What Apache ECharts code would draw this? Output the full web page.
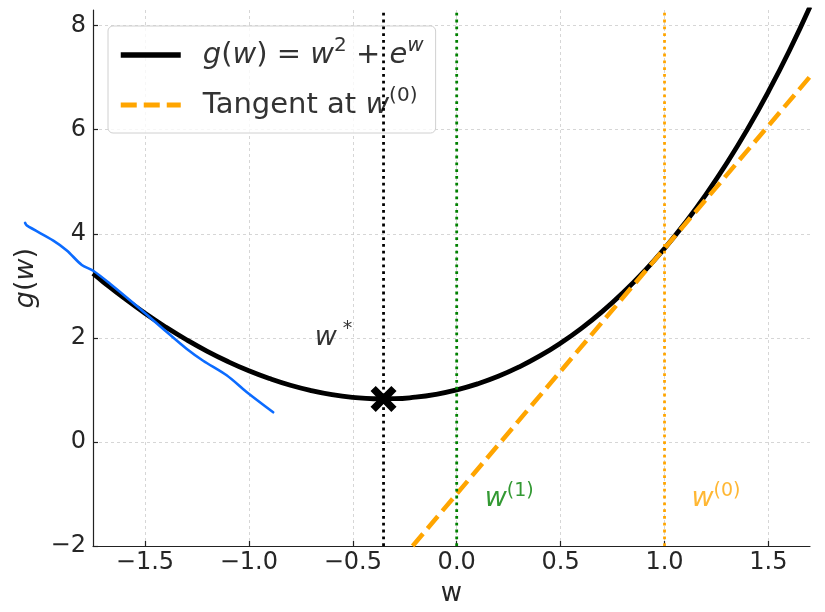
<!DOCTYPE html>
<html>
<head>
<meta charset="utf-8">
<script src="https://cdn.jsdelivr.net/npm/echarts@6/dist/echarts.min.js"></script>
<style>html,body{margin:0;padding:0;background:#fff}#chart{width:825px;height:612px}</style>
</head>
<body>
<div id="chart"></div>
<script>
// ---- data ----
const wSamples = [-1.75,-1.7,-1.6,-1.5,-1.4,-1.3,-1.2,-1.1,-1.0,-0.9,-0.8,-0.7,-0.6,-0.5,-0.4,-0.3,-0.2,-0.1,0.0,0.1,0.2,0.3,0.4,0.5,0.6,0.7,0.8,0.9,1.0,1.1,1.2,1.3,1.4,1.5,1.6,1.7];
const gValues = [3.236,3.073,2.762,2.473,2.207,1.963,1.741,1.543,1.368,1.217,1.089,0.987,0.909,0.857,0.830,0.831,0.859,0.915,1.000,1.115,1.261,1.440,1.652,1.899,2.182,2.504,2.866,3.270,3.718,4.214,4.760,5.359,6.015,6.732,7.513,8.364];
const tangentW = [-0.212, 1.7];
const tangentG = [-2.0, 7.02];
const wStar = -0.352, gStar = 0.827;
const w1 = 0.0, w0 = 1.0;
const yLow = -2, yHigh = 8.3;
const strokeW = [-2.077,-2.069,-1.941,-1.876,-1.804,-1.749,-1.668,-1.524,-1.412,-1.300,-1.220,-1.107,-1.011,-0.883];
const strokeG = [4.21,4.16,3.87,3.68,3.40,3.29,3.04,2.56,2.17,1.79,1.56,1.28,0.96,0.57];
const xTicks = [-1.5,-1.0,-0.5,0.0,0.5,1.0,1.5];
const yTicks = [-2,0,2,4,6,8];
const annotations = [
  {text: '{w|w}{s| *}', w: -0.683, g: 2.0, color: '#000000'},
  {text: '{w|w}{s|(1)}', w: 0.135, g: -1.10, color: '#008000'},
  {text: '{w|w}{s|(0)}', w: 1.130, g: -1.10, color: '#FFA500'}
];
const nameCurve = 'curve', nameTangent = 'tangent';

const FONT = 'DejaVu Sans';
const TXT = '#262626';
const zip = (a, b) => a.map((v, i) => [v, b[i]]);
const minus = s => String(s).replace('-', '\u2212');

const chart = echarts.init(document.getElementById('chart'), null, {renderer: 'canvas'});

const annSeries = annotations.map(a => ({
  type: 'scatter', data: [[a.w, a.g]], symbolSize: 0, silent: true, z: 20,
  label: {
    show: true, position: 'right', distance: 0, formatter: a.text, color: a.color,
    rich: {
      w: {fontFamily: FONT, fontStyle: 'italic', fontSize: 27, lineHeight: 36, color: a.color},
      s: {fontFamily: FONT, fontSize: 19, lineHeight: 19, verticalAlign: 'top', color: a.color}
    }
  }
}));

const option = {
  animation: false,
  backgroundColor: '#ffffff',
  grid: {left: 93, right: 15, top: 10, bottom: 66},
  legend: {
    orient: 'vertical', left: 108, top: 26,
    data: [
      {name: nameCurve, lineStyle: {color: '#000000', width: 5.5, type: 'solid'}},
      {name: nameTangent, lineStyle: {color: '#FFA500', width: 5, type: [16, 7]}}
    ],
    itemWidth: 60, itemHeight: 14, itemGap: 12,
    itemStyle: {opacity: 0, color: 'transparent', borderWidth: 0},
    padding: [10, 12, 9, 10],
    borderColor: '#d0d0d0', borderWidth: 1, borderRadius: 5,
    backgroundColor: 'rgba(255,255,255,0.8)',
    formatter: function (n) {
      if (n === nameCurve) return '{gap|}{i|g}{n|(}{i|w}{n|) = }{i|w}{s|2}{n| + }{i|e}{si|w}';
      return '{gap|}{n|Tangent at }{i|w}{s|(0)}';
    },
    textStyle: {
      fontFamily: FONT, fontSize: 29, color: '#333', lineHeight: 38,
      rich: {
        gap: {width: 17},
        n: {fontFamily: FONT, fontSize: 29, lineHeight: 38, color: '#333'},
        i: {fontFamily: FONT, fontStyle: 'italic', fontSize: 29, lineHeight: 38, color: '#333'},
        s: {fontFamily: FONT, fontSize: 20, lineHeight: 20, verticalAlign: 'top', color: '#333'},
        si: {fontFamily: FONT, fontStyle: 'italic', fontSize: 20, lineHeight: 20, verticalAlign: 'top', color: '#333'}
      }
    }
  },
  xAxis: {
    type: 'value', min: -1.75, max: 1.7,
    name: 'w', nameLocation: 'middle', nameGap: 35,
    nameTextStyle: {fontFamily: FONT, fontSize: 26, color: TXT},
    axisLine: {show: true, onZero: false, lineStyle: {color: '#222', width: 1.2}},
    axisTick: {show: true, inside: true, length: 5, customValues: xTicks, lineStyle: {color: '#222', width: 1.2}},
    axisLabel: {customValues: xTicks, fontFamily: FONT, fontSize: 24, color: TXT, margin: 5,
      formatter: v => minus(Number(v).toFixed(1))},
    splitLine: {show: true, lineStyle: {color: '#cccccc', width: 0.8, type: [3, 3]}}
  },
  yAxis: {
    type: 'value', min: yLow, max: yHigh,
    name: '{i|g}{n|(}{i|w}{n|)}', nameLocation: 'middle', nameGap: 47, nameRotate: 90,
    nameTextStyle: {fontFamily: FONT, fontSize: 27, color: TXT,
      rich: {
        i: {fontFamily: FONT, fontStyle: 'italic', fontSize: 27, color: TXT},
        n: {fontFamily: FONT, fontSize: 27, color: TXT}
      }},
    axisLine: {show: true, onZero: false, lineStyle: {color: '#222', width: 1.2}},
    axisTick: {show: true, inside: true, length: 5, customValues: yTicks, lineStyle: {color: '#222', width: 1.2}},
    axisLabel: {customValues: yTicks, fontFamily: FONT, fontSize: 24, color: TXT, margin: 7,
      formatter: v => minus(Math.round(v))},
    splitLine: {show: true, lineStyle: {color: '#cccccc', width: 0.8, type: [3, 3]}}
  },
  series: [
    {
      name: nameCurve, type: 'line', data: zip(wSamples, gValues), smooth: true,
      symbol: 'none', clip: true, z: 3,
      lineStyle: {color: '#000000', width: 4.8}, itemStyle: {color: '#000000'}
    },
    {
      name: nameTangent, type: 'line', data: zip(tangentW, tangentG),
      symbol: 'none', clip: true, z: 4,
      lineStyle: {color: '#FFA500', width: 4.5, type: [16, 7]}, itemStyle: {color: '#FFA500'}
    },
    {
      type: 'line', data: [[wStar, yLow], [wStar, yHigh]], symbol: 'none', z: 5, silent: true,
      lineStyle: {color: '#000000', width: 2.8, type: [2.8, 4]}
    },
    {
      type: 'line', data: [[w1, yLow], [w1, yHigh]], symbol: 'none', z: 5, silent: true,
      lineStyle: {color: '#008000', width: 2.8, type: [2.8, 4]}
    },
    {
      type: 'line', data: [[w0, yLow], [w0, yHigh]], symbol: 'none', z: 5, silent: true,
      lineStyle: {color: '#FFA500', width: 2.8, type: [2.8, 4]}
    },
    {
      type: 'scatter', data: [[wStar, gStar]], z: 6, silent: true,
      symbol: 'path://M2,0 L5,3 L8,0 L10,2 L7,5 L10,8 L8,10 L5,7 L2,10 L0,8 L3,5 L0,2 Z',
      symbolSize: 26, itemStyle: {color: '#000000', opacity: 1}
    }
  ].concat(annSeries)
};
chart.setOption(option);

// free-hand blue stroke extends past the axes: place its points through the chart's own scales
const strokePts = zip(strokeW, strokeG).map(p => chart.convertToPixel({gridIndex: 0}, p));
chart.setOption({
  graphic: [{
    type: 'polyline', z: 100, silent: true,
    shape: {points: strokePts, smooth: 0.3},
    style: {stroke: '#0B6BFF', lineWidth: 2.6, fill: null, lineJoin: 'round', lineCap: 'round'}
  }]
});
</script>
</body>
</html>
